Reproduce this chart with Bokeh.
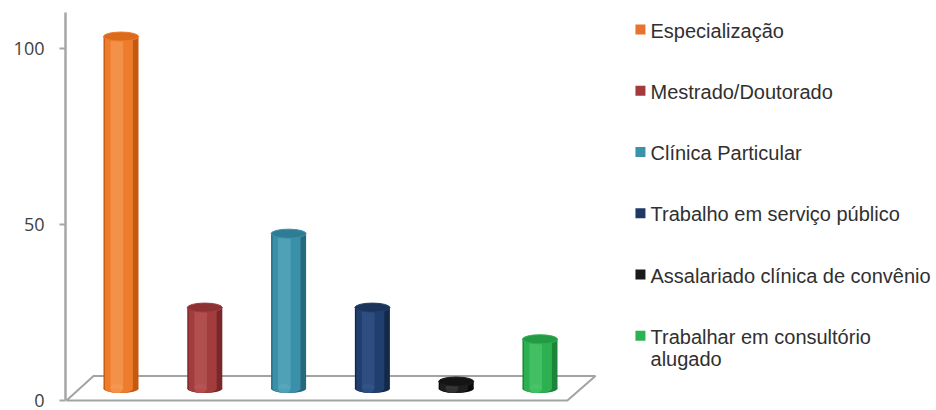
from bokeh.plotting import figure
from bokeh.models import Range1d, FixedTicker, ColumnDataSource
from bokeh.core.properties import value
from bokeh.embed import file_html
from bokeh.resources import INLINE

# ---- data ----
categories = [
    "Especialização",
    "Mestrado/Doutorado",
    "Clínica Particular",
    "Trabalho em serviço público",
    "Assalariado clínica de convênio",
    "Trabalhar em consultório\nalugado",
]
values = [100, 23, 44, 23, 2, 14]
y_ticks = [0, 50, 100]

# ---- styles ----
body_colors = ["#EE7C2C", "#A23C3D", "#3A90A9", "#213F6E", "#1E1E1E", "#2DB150"]
edge_colors = ["#C45A12", "#7A2729", "#26697F", "#14294A", "#0A0A0A", "#1B8539"]
light_colors = ["#F69A55", "#B85556", "#5AA8BE", "#34568A", "#3A3A3A", "#4CC46A"]
top_colors = ["#DA6A1C", "#8E3132", "#2F7D94", "#1A345C", "#141414", "#239A44"]
legend_colors = ["#E8732E", "#A33A3B", "#3B93AA", "#1F3864", "#1A1A1A", "#2CB34F"]

BAR_W = 0.418        # bar width in category units
BASE = 3.4           # 3D depth offset of the bar bases
CAP_H = 9            # screen px height of cylinder caps

p = figure(
    width=936, height=410,
    x_range=Range1d(-0.6623, 9.732),
    y_range=Range1d(-2.84, 110.23),
    x_axis_location=None,
    output_backend="svg", toolbar_location=None,
    min_border_left=65, min_border_right=0,
    min_border_top=12, min_border_bottom=0,
)
p.xgrid.visible = False
p.ygrid.visible = False
p.outline_line_color = None
p.background_fill_color = "white"

ax = p.yaxis[0]
ax.ticker = FixedTicker(ticks=y_ticks)
ax.bounds = (0, 110.23)
ax.axis_line_color = "#a6a6a6"
ax.axis_line_width = 2.5
ax.major_tick_line_color = "#a6a6a6"
ax.major_tick_line_width = 2
ax.major_tick_out = 6
ax.major_tick_in = 0
ax.minor_tick_line_color = None
ax.major_label_text_font = "Open Sans"
ax.major_label_text_font_size = "18px"
ax.major_label_text_color = "#404040"
ax.major_label_standoff = 15

# ---- floor of the 3D plot ----
floor_x = [-0.65, -0.328, 5.662, 5.327, -0.65]
floor_y = [0, 6.96, 6.96, 0, 0]
p.patch(floor_x, floor_y, fill_color="white", line_color="#a3a3a3", line_width=2)

# ---- cylinders ----
xs = list(range(len(values)))
tops = [BASE + v for v in values]
layers = [
    (1.0, 0.0, edge_colors, 1.0),
    (0.80, -0.025, body_colors, 1.0),
    (0.36, -0.05, light_colors, 0.7),
]
for frac, off, cols, alpha in layers:
    src = ColumnDataSource(dict(
        x=[x + off for x in xs], top=tops, bottom=[BASE] * len(xs), c=cols,
    ))
    p.ellipse(x="x", y="bottom", width=BAR_W * frac, height=CAP_H,
              height_units="screen", fill_color="c", fill_alpha=alpha,
              line_color=None, source=src)
    p.vbar(x="x", bottom="bottom", top="top", width=BAR_W * frac,
           fill_color="c", fill_alpha=alpha, line_color=None, source=src)

p.ellipse(x=xs, y=tops, width=BAR_W, height=CAP_H, height_units="screen",
          fill_color=top_colors, line_color=body_colors, line_width=1)

# ---- legend (drawn manually to match layout) ----
LEG_TOP = 105.1
LEG_STEP = 17.4
LINE_GAP = 22 / 3.52
leg_y = [LEG_TOP - i * LEG_STEP for i in range(len(categories))]
p.scatter(x=[6.199] * len(categories), y=[y + 0.3 for y in leg_y], marker="square",
          size=10, fill_color=legend_colors, line_color=None)

tx, ty, tt = [], [], []
for y, lab in zip(leg_y, categories):
    for k, line in enumerate(lab.split("\n")):
        tx.append(6.319)
        ty.append(y - k * LINE_GAP)
        tt.append(line)
p.text(x=tx, y=ty, text=tt, text_font=value("Liberation Sans"),
       text_font_size="20px", text_color="#303030",
       text_baseline="middle", text_align="left")

open("out.html", "w").write(file_html(p, INLINE))
